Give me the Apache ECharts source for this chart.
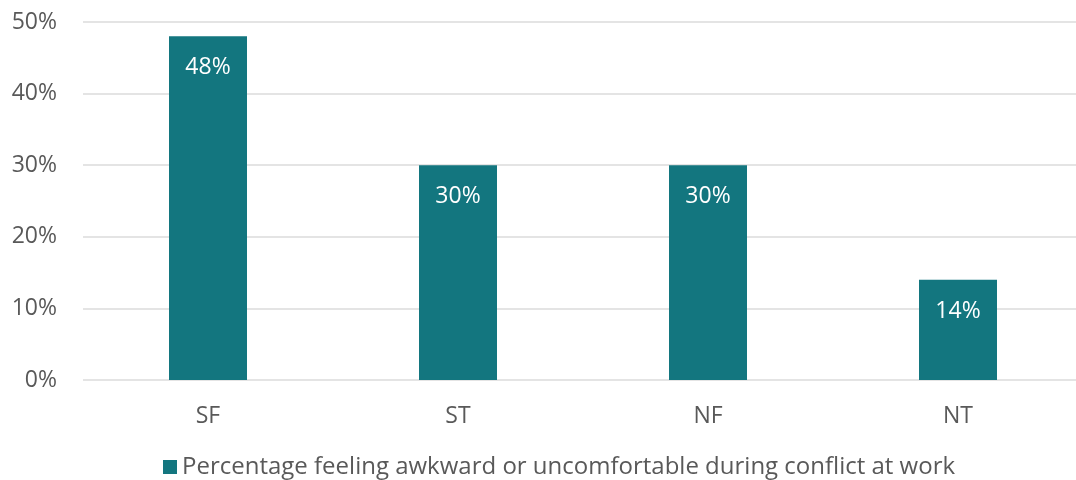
<!DOCTYPE html>
<html><head><meta charset="utf-8">
<script src="https://cdn.jsdelivr.net/npm/echarts@6/dist/echarts.min.js"></script>
<style>html,body{margin:0;padding:0;background:#fff}#c{width:1076px;height:480px}</style>
</head><body><div id="c"></div>
<script>
const categories = ['SF', 'ST', 'NF', 'NT'];
const values = [48, 30, 30, 14];
const seriesName = 'Percentage feeling awkward or uncomfortable during conflict at work';
const yTicks = [0, 10, 20, 30, 40, 50];

const FONT = '"Open Sans", sans-serif';
const chart = echarts.init(document.getElementById('c'), null, {renderer: 'canvas'});
chart.setOption({
  animation: false,
  textStyle: {fontFamily: FONT},
  grid: {left: 83, top: 22, width: 1000, height: 358, containLabel: false, outerBoundsMode: 'none'},
  legend: {
    left: 163, top: 455, padding: 0,
    itemWidth: 14, itemHeight: 14, itemGap: 8,
    icon: 'rect',
    textStyle: {fontSize: 24, color: '#595959', fontFamily: FONT},
    data: [seriesName]
  },
  xAxis: {
    type: 'category', data: categories,
    axisLine: {show: false}, axisTick: {show: false},
    axisLabel: {fontSize: 23, color: '#595959', margin: 25, fontFamily: FONT}
  },
  yAxis: {
    type: 'value', min: yTicks[0], max: yTicks[yTicks.length - 1], interval: 10,
    axisLine: {show: false}, axisTick: {show: false},
    axisLabel: {fontSize: 23, color: '#595959', margin: 26, formatter: '{value}%', fontFamily: FONT},
    splitLine: {lineStyle: {color: '#e4e4e4', width: 2}}
  },
  series: [{
    name: seriesName, type: 'bar', data: values, barWidth: 78,
    itemStyle: {color: '#13767f'},
    label: {show: true, position: 'insideTop', distance: 20, color: '#fff', fontSize: 23,
      formatter: '{c}%', fontFamily: FONT}
  }]
});
</script></body></html>
